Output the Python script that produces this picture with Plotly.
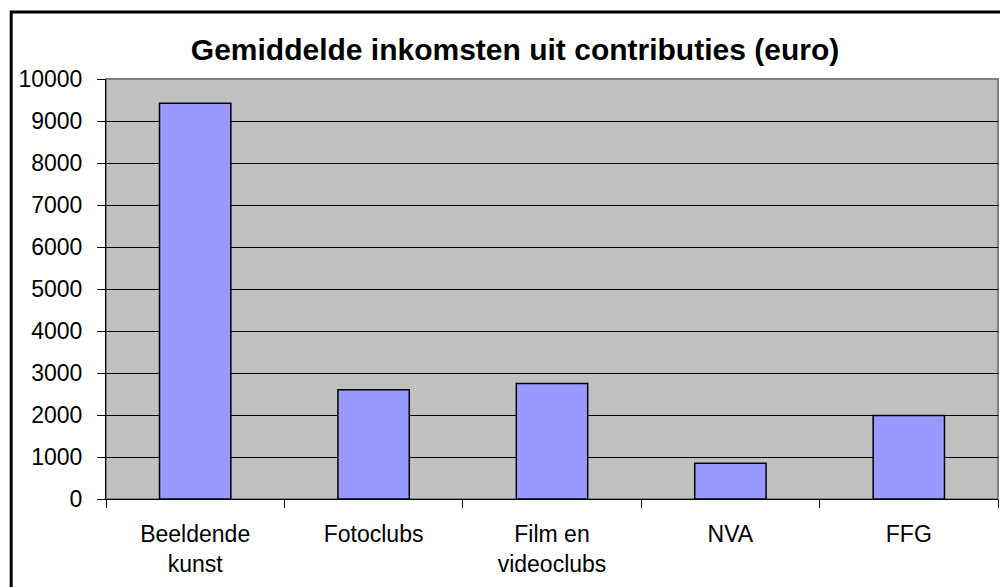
import plotly.graph_objects as go

categories = ["Beeldende<br>kunst", "Fotoclubs", "Film en<br>videoclubs", "NVA", "FFG"]
inkomsten = [9420, 2600, 2750, 850, 1990]
y_ticks = list(range(0, 10001, 1000))
y_ticktext = [str(v) for v in y_ticks]

font_family = "Liberation Sans, Arial, sans-serif"

fig = go.Figure()
fig.add_trace(go.Bar(
    x=categories,
    y=inkomsten,
    marker=dict(color="#9999FF", line=dict(color="black", width=1.5)),
    width=0.4,
))

# gray border round the plot area
fig.add_shape(type="rect", xref="paper", yref="paper", x0=0, x1=1, y0=0, y1=1,
              line=dict(color="#808080", width=2), layer="below")
# black frame round the whole chart
fig.add_shape(type="rect", xref="paper", yref="paper",
              x0=-0.1063, x1=1.03, y0=-0.25, y1=1.1595,
              line=dict(color="black", width=3))

# page body has an 8px margin, so the figure is a bit smaller than the window
fig.update_layout(
    width=1000,
    height=579,
    margin=dict(l=96, r=10, t=71, b=88),
    paper_bgcolor="white",
    plot_bgcolor="#C0C0C0",
    showlegend=False,
    font=dict(family=font_family, color="black", size=23),
    title=dict(
        text="<b>Gemiddelde inkomsten uit contributies (euro)</b>",
        x=0.507, xanchor="center", xref="container",
        y=0.9275, yanchor="middle", yref="container",
        font=dict(size=30, family=font_family, color="black"),
    ),
    xaxis=dict(
        showline=True, linecolor="black", linewidth=1,
        ticks="outside", tickson="boundaries", ticklen=8, tickcolor="black",
        showgrid=False, ticklabelstandoff=14,
        tickfont=dict(size=23),
    ),
    yaxis=dict(
        range=[0, 10000], tickvals=y_ticks, ticktext=y_ticktext,
        showline=True, linecolor="black", linewidth=1,
        ticks="outside", ticklen=8, tickcolor="black",
        showgrid=True, gridcolor="black", gridwidth=1,
        zeroline=False, ticklabelstandoff=10,
        tickfont=dict(size=23),
    ),
)

fig.write_html("out.html")
